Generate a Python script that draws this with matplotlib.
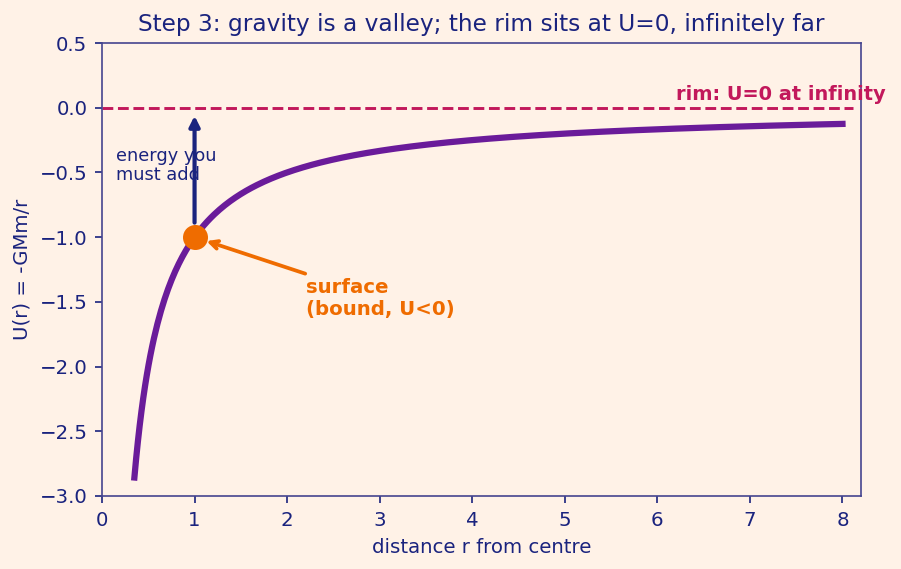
import numpy as np
import matplotlib
matplotlib.use('Agg')
import matplotlib.pyplot as plt

BG = '#fff2e7'
NAVY = '#1a237e'
PURPLE = '#6a1b9a'
CRIMSON = '#c2185b'
ORANGE = '#ef6c00'

# U(r) = -GMm/r in units where GMm = 1
r = np.linspace(0.35, 8.0, 400)
U = -1.0 / r
r_surf, U_surf = 1.0, -1.0

plt.rcParams['text.color'] = NAVY
plt.rcParams['axes.labelcolor'] = NAVY
plt.rcParams['xtick.color'] = NAVY
plt.rcParams['ytick.color'] = NAVY

fig = plt.figure(figsize=(9.01 / 1.5, 5.69 / 1.5), dpi=150, facecolor=BG)
ax = fig.add_axes([0.1132, 0.1283, 0.8424, 0.7961])
ax.set_facecolor(BG)
for s in ax.spines.values():
    s.set_color('#45458f')

ax.plot(r, U, color=PURPLE, linewidth=3, zorder=3)
ax.axhline(0, color=CRIMSON, linestyle='--', linewidth=1.4, xmax=0.99)
ax.text(6.2, 0.03, 'rim: U=0 at infinity', color=CRIMSON, fontsize=9.3,
        fontweight='bold', ha='left', va='bottom')

ax.plot([r_surf], [U_surf], 'o', color=ORANGE, markersize=11, zorder=5)

ax.annotate('', xy=(r_surf, -0.03), xytext=(r_surf, -0.92),
            arrowprops=dict(arrowstyle='-|>', color=NAVY, lw=2,
                            mutation_scale=10))
ax.text(0.15, -0.3, 'energy you\nmust add', color=NAVY, fontsize=8.5,
        ha='left', va='top', linespacing=1.1)

ax.annotate('surface\n(bound, U<0)', xy=(r_surf, U_surf), xytext=(2.2, -1.6),
            color=ORANGE, fontsize=9.5, fontweight='bold',
            arrowprops=dict(arrowstyle='->', color=ORANGE, lw=1.8, shrinkA=0,
                            shrinkB=6))

ax.set_xlim(0, 8.2)
ax.set_ylim(-3, 0.5)
ax.set_xticks(range(0, 9))
ax.tick_params(labelsize=9.5)
ax.set_xlabel('distance r from centre', fontsize=9.5)
ax.set_ylabel('U(r) = -GMm/r', fontsize=9.5)
ax.set_title('Step 3: gravity is a valley; the rim sits at U=0, infinitely far',
             fontsize=11.2, color=NAVY)

plt.savefig('out.png', dpi=150, facecolor=BG)
